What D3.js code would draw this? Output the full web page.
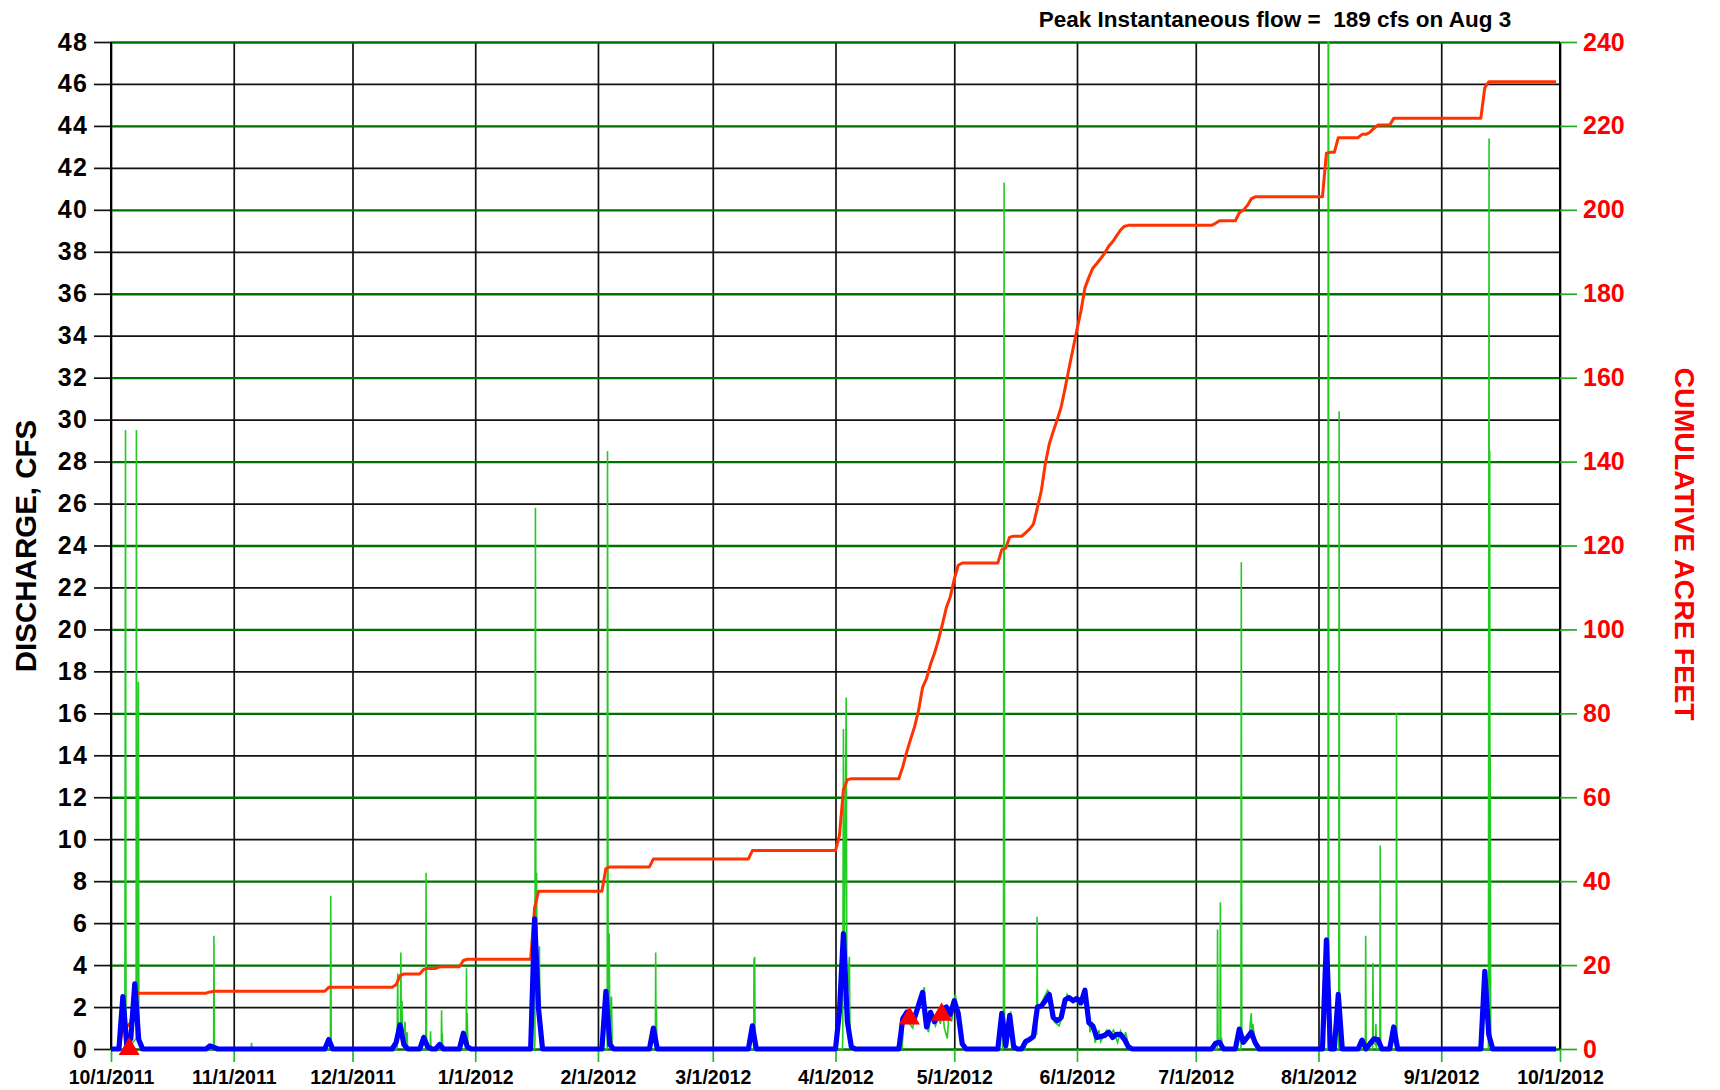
<!DOCTYPE html>
<html><head><meta charset="utf-8">
<script src="https://cdn.jsdelivr.net/npm/d3@7"></script>
<style>
body{margin:0;background:#fff;}
svg{display:block;}
text{font-family:"Liberation Sans", Arial, Helvetica, sans-serif;}
</style>
</head><body>
<svg id="chart" width="1720" height="1090"></svg>
<script>
// ---------------- DATA ----------------
const titleText = "Peak Instantaneous flow =  189 cfs on Aug 3";
const leftAxisTitle = "DISCHARGE, CFS";
const rightAxisTitle = "CUMULATIVE ACRE FEET";

const leftTickValues = [0,2,4,6,8,10,12,14,16,18,20,22,24,26,28,30,32,34,36,38,40,42,44,46,48];
const rightTickValues = [0,20,40,60,80,100,120,140,160,180,200,220,240];
const monthTickDates = ["2011-10-01","2011-11-01","2011-12-01","2012-01-01","2012-02-01","2012-03-01","2012-04-01","2012-05-01","2012-06-01","2012-07-01","2012-08-01","2012-09-01","2012-10-01"];
const monthTickLabels = ["10/1/2011","11/1/2011","12/1/2011","1/1/2012","2/1/2012","3/1/2012","4/1/2012","5/1/2012","6/1/2012","7/1/2012","8/1/2012","9/1/2012","10/1/2012"];

// daily mean discharge, cfs (blue)
const dailyMean = [
["2011-10-01",0],["2011-10-03",0],["2011-10-04",2.5],["2011-10-05",0.15],["2011-10-06",0.5],["2011-10-07",3.1],["2011-10-08",0.45],["2011-10-09",0],
["2011-10-25",0],["2011-10-26",0.15],["2011-10-27",0.08],["2011-10-28",0],
["2011-11-24",0],["2011-11-25",0.45],["2011-11-26",0],
["2011-12-11",0],["2011-12-12",0.3],["2011-12-13",1.15],["2011-12-14",0.2],["2011-12-15",0],
["2011-12-18",0],["2011-12-19",0.55],["2011-12-20",0.1],["2011-12-21",0],
["2011-12-22",0],["2011-12-23",0.22],["2011-12-24",0],
["2011-12-28",0],["2011-12-29",0.75],["2011-12-30",0.1],["2011-12-31",0],
["2012-01-15",0],["2012-01-16",6.2],["2012-01-17",1.9],["2012-01-18",0],
["2012-02-02",0],["2012-02-03",2.75],["2012-02-04",0.2],["2012-02-05",0],
["2012-02-14",0],["2012-02-15",1.0],["2012-02-16",0],
["2012-03-10",0],["2012-03-11",1.1],["2012-03-12",0],
["2012-04-01",0],["2012-04-02",1.8],["2012-04-03",5.5],["2012-04-04",1.3],["2012-04-05",0.1],["2012-04-06",0],
["2012-04-17",0],["2012-04-18",1.45],["2012-04-19",1.75],["2012-04-21",1.5],["2012-04-23",2.7],["2012-04-24",1.05],["2012-04-25",1.75],["2012-04-26",1.3],["2012-04-28",1.9],["2012-04-29",2.0],["2012-04-30",1.65],["2012-05-01",2.3],["2012-05-02",1.7],["2012-05-03",0.25],["2012-05-04",0],
["2012-05-12",0],["2012-05-13",1.7],["2012-05-14",0.15],["2012-05-15",1.6],["2012-05-16",0.1],["2012-05-17",0],["2012-05-18",0],
["2012-05-19",0.35],["2012-05-20",0.45],["2012-05-21",0.6],["2012-05-22",2.0],["2012-05-23",2.05],["2012-05-24",2.3],["2012-05-25",2.6],["2012-05-26",1.5],["2012-05-27",1.35],["2012-05-28",1.5],["2012-05-29",2.35],["2012-05-30",2.45],["2012-05-31",2.3],["2012-06-01",2.4],["2012-06-02",2.2],["2012-06-03",2.8],["2012-06-04",1.25],["2012-06-05",1.1],["2012-06-06",0.55],["2012-06-07",0.6],["2012-06-08",0.65],["2012-06-09",0.8],["2012-06-10",0.55],["2012-06-11",0.7],["2012-06-12",0.7],["2012-06-13",0.45],["2012-06-14",0.1],["2012-06-15",0],
["2012-07-05",0],["2012-07-06",0.27],["2012-07-07",0.32],["2012-07-08",0],
["2012-07-11",0],["2012-07-12",0.95],["2012-07-13",0.32],["2012-07-14",0.55],["2012-07-15",0.8],["2012-07-16",0.3],["2012-07-17",0],
["2012-08-02",0],["2012-08-03",5.2],["2012-08-04",0],["2012-08-05",0],["2012-08-06",2.6],["2012-08-07",0],
["2012-08-11",0],["2012-08-12",0.42],["2012-08-13",0],["2012-08-14",0.25],["2012-08-15",0.48],["2012-08-16",0.45],["2012-08-17",0],
["2012-08-19",0],["2012-08-20",1.05],["2012-08-21",0],
["2012-09-11",0],["2012-09-12",3.7],["2012-09-13",0.7],["2012-09-14",0],["2012-09-30",0]
];

// cumulative volume, acre-feet (red, right axis)
const cumulativeAF = [
["2011-10-01",0],["2011-10-03",0],["2011-10-04",5.0],["2011-10-05",5.3],["2011-10-06",6.3],["2011-10-07",12.4],["2011-10-08",13.3],
["2011-10-25",13.3],["2011-10-26",13.6],["2011-10-27",13.75],
["2011-11-24",13.75],["2011-11-25",14.7],
["2011-12-11",14.7],["2011-12-12",15.3],["2011-12-13",17.5],["2011-12-14",17.9],
["2011-12-18",17.9],["2011-12-19",19.0],["2011-12-20",19.2],
["2011-12-22",19.2],["2011-12-23",19.6],
["2011-12-28",19.6],["2011-12-29",21.1],["2011-12-30",21.4],
["2012-01-15",21.4],["2012-01-16",33.7],["2012-01-17",37.6],
["2012-02-02",37.6],["2012-02-03",43.0],["2012-02-04",43.4],
["2012-02-14",43.4],["2012-02-15",45.3],
["2012-03-10",45.3],["2012-03-11",47.3],
["2012-04-01",47.3],["2012-04-02",50.9],["2012-04-03",61.8],["2012-04-04",64.2],["2012-04-05",64.4],
["2012-04-17",64.4],["2012-04-18",67.3],["2012-04-19",70.8],["2012-04-20",73.9],["2012-04-21",76.9],["2012-04-22",80.8],["2012-04-23",86.2],["2012-04-24",88.3],["2012-04-25",91.7],["2012-04-26",94.3],["2012-04-27",97.5],["2012-04-28",101.2],["2012-04-29",105.2],["2012-04-30",107.8],["2012-05-01",112.0],["2012-05-02",115.3],["2012-05-03",115.8],
["2012-05-12",115.8],["2012-05-13",119.0],["2012-05-14",119.4],["2012-05-15",122.0],["2012-05-16",122.2],
["2012-05-18",122.2],["2012-05-19",123.0],["2012-05-20",123.9],["2012-05-21",125.1],["2012-05-22",129.0],["2012-05-23",133.1],["2012-05-24",139.5],["2012-05-25",144.2],["2012-05-26",147.2],["2012-05-27",150.0],["2012-05-28",153.0],["2012-05-29",157.5],["2012-05-30",162.3],["2012-05-31",166.9],["2012-06-01",171.5],["2012-06-02",175.9],["2012-06-03",181.4],["2012-06-04",183.9],["2012-06-05",186.1],["2012-06-06",187.2],["2012-06-07",188.4],["2012-06-08",189.7],["2012-06-09",191.3],["2012-06-10",192.4],["2012-06-11",193.8],["2012-06-12",195.2],["2012-06-13",196.1],["2012-06-14",196.3],
["2012-07-05",196.3],["2012-07-06",196.8],["2012-07-07",197.4],
["2012-07-11",197.4],["2012-07-12",199.3],["2012-07-13",199.9],["2012-07-14",201.0],["2012-07-15",202.6],["2012-07-16",203.1],
["2012-08-02",203.1],["2012-08-03",213.5],["2012-08-04",213.7],
["2012-08-05",213.7],["2012-08-06",217.2],
["2012-08-11",217.2],["2012-08-12",218.0],["2012-08-13",218.0],["2012-08-14",218.5],["2012-08-15",219.4],["2012-08-16",220.2],
["2012-08-19",220.2],["2012-08-20",221.8],
["2012-09-11",221.8],["2012-09-12",229.1],["2012-09-13",230.5],["2012-09-30",230.5]
];

// instantaneous discharge, cfs (green)
const instantaneous = [
["2011-10-01 00:00",0],
["2011-10-04 12:00",0],["2011-10-04 16:00",29.5],["2011-10-04 19:00",1.2],["2011-10-05 06:00",0.2],["2011-10-06 12:00",0.3],
["2011-10-07 08:00",0.5],["2011-10-07 10:00",29.5],["2011-10-07 13:00",2.5],["2011-10-07 21:00",1.0],["2011-10-07 22:00",17.5],["2011-10-08 01:00",0.8],["2011-10-08 12:00",0.2],["2011-10-09 00:00",0],
["2011-10-26 22:00",0],["2011-10-27 00:00",5.4],["2011-10-27 03:00",0],
["2011-11-05 10:00",0],["2011-11-05 12:00",0.3],["2011-11-05 14:00",0],
["2011-11-25 10:00",0],["2011-11-25 12:00",7.3],["2011-11-25 15:00",0.2],["2011-11-25 20:00",0],
["2011-12-12 06:00",0],["2011-12-12 10:00",3.6],["2011-12-12 13:00",0.5],["2011-12-13 03:00",1.0],["2011-12-13 05:00",4.6],["2011-12-13 08:00",1.0],["2011-12-13 12:00",2.3],["2011-12-13 15:00",0.4],["2011-12-14 07:00",1.3],["2011-12-14 10:00",0.2],["2011-12-14 19:00",0.8],["2011-12-14 22:00",0],
["2011-12-19 10:00",0],["2011-12-19 12:00",0.1],["2011-12-19 14:00",8.4],["2011-12-19 17:00",0.2],["2011-12-20 15:00",0.1],["2011-12-20 17:00",0.85],["2011-12-20 20:00",0],
["2011-12-23 10:00",0],["2011-12-23 12:00",1.85],["2011-12-23 14:00",0.3],["2011-12-23 16:00",0.75],["2011-12-23 19:00",0],
["2011-12-29 17:00",0],["2011-12-29 19:00",3.85],["2011-12-29 21:00",0.5],["2011-12-29 23:00",1.7],["2011-12-30 04:00",0],
["2012-01-16 00:00",0],["2012-01-16 02:00",0.5],["2012-01-16 05:00",25.8],["2012-01-16 08:00",4.0],["2012-01-16 12:00",8.4],["2012-01-16 16:00",2.0],["2012-01-17 05:00",4.9],["2012-01-17 09:00",0.8],["2012-01-17 20:00",0],
["2012-02-03 08:00",0],["2012-02-03 10:00",28.5],["2012-02-03 14:00",1.5],["2012-02-03 20:00",5.5],["2012-02-04 00:00",0.8],["2012-02-04 10:00",2.5],["2012-02-04 14:00",0.3],["2012-02-05 00:00",0],
["2012-02-15 12:00",0],["2012-02-15 14:00",4.6],["2012-02-15 16:00",0.4],["2012-02-15 18:00",2.1],["2012-02-15 21:00",0],
["2012-03-11 08:00",0],["2012-03-11 10:00",4.3],["2012-03-11 12:00",0.5],["2012-03-11 14:00",4.4],["2012-03-11 17:00",0],
["2012-04-02 18:00",0],["2012-04-02 20:00",0.5],["2012-04-03 00:00",15.25],["2012-04-03 04:00",3.0],["2012-04-03 17:00",16.75],["2012-04-03 21:00",2.0],["2012-04-04 12:00",4.4],["2012-04-04 16:00",0.5],["2012-04-05 06:00",0],
["2012-04-17 20:00",0],["2012-04-18 06:00",1.6],["2012-04-19 00:00",1.8],["2012-04-19 18:00",1.2],["2012-04-20 12:00",1.0],["2012-04-21 06:00",1.7],["2012-04-22 12:00",2.2],["2012-04-23 10:00",2.95],["2012-04-24 00:00",1.1],["2012-04-24 12:00",0.8],["2012-04-25 06:00",1.8],["2012-04-26 06:00",1.1],["2012-04-27 00:00",1.5],["2012-04-27 12:00",1.2],["2012-04-28 00:00",1.9],["2012-04-28 12:00",1.0],["2012-04-29 06:00",0.5],["2012-04-29 18:00",2.0],["2012-04-30 08:00",1.3],["2012-05-01 06:00",2.6],["2012-05-02 00:00",1.6],["2012-05-02 18:00",0.4],["2012-05-03 12:00",0],
["2012-05-13 04:00",0],["2012-05-13 10:00",1.9],["2012-05-13 14:00",41.3],["2012-05-13 17:00",1.5],["2012-05-14 06:00",0.1],["2012-05-15 06:00",1.8],["2012-05-15 18:00",0.3],["2012-05-16 12:00",0],
["2012-05-18 22:00",0],["2012-05-19 00:00",0.3],["2012-05-20 12:00",0.6],["2012-05-21 20:00",0.7],["2012-05-21 22:00",6.3],["2012-05-22 01:00",1.8],["2012-05-23 00:00",2.2],["2012-05-24 14:00",2.8],["2012-05-25 08:00",2.6],["2012-05-26 06:00",1.3],["2012-05-27 12:00",1.1],["2012-05-28 12:00",1.7],["2012-05-29 12:00",2.6],["2012-05-30 12:00",2.3],["2012-05-31 18:00",2.5],["2012-06-01 12:00",2.1],["2012-06-03 06:00",2.9],["2012-06-04 07:00",0.8],["2012-06-04 20:00",1.3],["2012-06-05 14:00",0.3],["2012-06-06 12:00",0.9],["2012-06-07 00:00",0.35],["2012-06-08 12:00",0.9],["2012-06-09 12:00",0.7],["2012-06-10 06:00",0.9],["2012-06-11 06:00",0.3],["2012-06-12 00:00",0.85],["2012-06-12 18:00",0.4],["2012-06-13 06:00",0.8],["2012-06-14 00:00",0.2],["2012-06-14 12:00",0],
["2012-07-06 10:00",0],["2012-07-06 12:00",5.7],["2012-07-06 15:00",0.3],["2012-07-07 03:00",0.2],["2012-07-07 05:00",7.0],["2012-07-07 08:00",0.3],["2012-07-07 12:00",0.55],["2012-07-07 18:00",0],
["2012-07-12 10:00",0],["2012-07-12 12:00",23.2],["2012-07-12 15:00",0.4],["2012-07-13 12:00",0.3],["2012-07-14 12:00",0.6],["2012-07-15 00:00",1.7],["2012-07-15 06:00",0.5],["2012-07-15 10:00",1.2],["2012-07-15 16:00",0.8],["2012-07-16 06:00",0],
["2012-08-03 10:00",0],["2012-08-03 12:00",189],["2012-08-03 14:00",0.5],["2012-08-04 00:00",0],
["2012-08-06 03:00",0],["2012-08-06 05:00",30.4],["2012-08-06 08:00",0.3],["2012-08-06 16:00",0],
["2012-08-12 20:00",0],["2012-08-12 22:00",5.4],["2012-08-13 01:00",0],
["2012-08-14 16:00",0],["2012-08-14 18:00",4.1],["2012-08-14 21:00",0.3],["2012-08-15 10:00",0.2],["2012-08-15 12:00",1.2],["2012-08-15 15:00",0],
["2012-08-16 12:00",0],["2012-08-16 14:00",9.7],["2012-08-16 17:00",0],
["2012-08-20 15:00",0],["2012-08-20 17:00",16.0],["2012-08-20 19:00",0.8],["2012-08-20 23:00",0],
["2012-09-12 22:00",0],["2012-09-13 02:00",43.4],["2012-09-13 04:00",1.0],["2012-09-13 06:00",28.5],["2012-09-13 08:00",1.0],["2012-09-13 09:00",13.9],["2012-09-13 12:00",0],
["2012-09-30 00:00",0]
];

// field measurements, cfs (red triangles)
const measurements = [["2011-10-05 14:00",0],["2012-04-19 16:00",1.46],["2012-04-27 19:00",1.64]];

// ---------------- CHART ----------------
const svg = d3.select("#chart");
const L = 111, R = 1560, T = 42, B = 1049;
const parseDay = d3.utcParse("%Y-%m-%d");
const parseTime = d3.utcParse("%Y-%m-%d %H:%M");

const x = d3.scaleUtc().domain([parseDay("2011-10-01"), parseDay("2012-10-01")]).range([L, R]);
const yL = d3.scaleLinear().domain([0, 48]).range([B, T]);
const yR = d3.scaleLinear().domain([0, 240]).range([B, T]);
const monthDates = monthTickDates.map(parseDay);

svg.append("defs").append("clipPath").attr("id","plotClip")
  .append("rect").attr("x", L).attr("y", T - 1).attr("width", R - L).attr("height", B - T + 6);

// black horizontal grid (left axis values not on the green grid)
svg.append("g").attr("class","gridBlack")
  .attr("transform", `translate(${L},0)`)
  .call(d3.axisLeft(yL).tickValues(leftTickValues.filter(v => v % 4 !== 0)).tickSize(-(R - L)).tickFormat(""))
  .call(g => g.select(".domain").remove())
  .call(g => g.selectAll("line").attr("stroke", "#111").attr("stroke-width", 1.7));

// vertical month grid
svg.append("g").attr("class","gridV")
  .attr("transform", `translate(0,${B})`)
  .call(d3.axisBottom(x).tickValues(monthDates).tickSize(-(B - T)).tickFormat(""))
  .call(g => g.select(".domain").remove())
  .call(g => g.selectAll("line").attr("stroke", "#111").attr("stroke-width", 1.7));

// green horizontal grid (right axis values)
svg.append("g").attr("class","gridGreen")
  .attr("transform", `translate(${R},0)`)
  .call(d3.axisRight(yR).tickValues(rightTickValues).tickSize(-(R - L)).tickFormat(""))
  .call(g => g.select(".domain").remove())
  .call(g => g.selectAll("line").attr("stroke", "#007000").attr("stroke-width", 2.3));

// plot borders (left / right)
svg.append("line").attr("x1", L).attr("x2", L).attr("y1", T).attr("y2", B).attr("stroke", "#000").attr("stroke-width", 2);
svg.append("line").attr("x1", R).attr("x2", R).attr("y1", T).attr("y2", B).attr("stroke", "#000").attr("stroke-width", 2);

// left axis ticks + labels
const axL = svg.append("g").attr("transform", `translate(${L},0)`)
  .call(d3.axisLeft(yL).tickValues(leftTickValues).tickSize(17).tickPadding(6).tickFormat(d3.format("d")));
axL.select(".domain").remove();
axL.selectAll("line").attr("stroke", "#111").attr("stroke-width", 1.7);
axL.selectAll("text").attr("font-size", 25).attr("font-weight", "bold").attr("fill", "#000")
  .attr("letter-spacing", 1.2)
  .attr("font-family", '"Liberation Sans", Arial, sans-serif');

// right axis ticks + labels
const axR = svg.append("g").attr("transform", `translate(${R},0)`)
  .call(d3.axisRight(yR).tickValues(rightTickValues).tickSize(17).tickPadding(6).tickFormat(d3.format("d")));
axR.select(".domain").remove();
axR.selectAll("line").attr("stroke", "#22aa22").attr("stroke-width", 1.7);
axR.selectAll("text").attr("font-size", 25).attr("font-weight", "bold").attr("fill", "#ff0000")
  .attr("font-family", '"Liberation Sans", Arial, sans-serif');

// bottom axis ticks + labels
const axB = svg.append("g").attr("transform", `translate(0,${B})`)
  .call(d3.axisBottom(x).tickValues(monthDates).tickSize(13).tickPadding(8).tickFormat((d, i) => monthTickLabels[i]));
axB.select(".domain").remove();
axB.selectAll("line").attr("stroke", "#22bb22").attr("stroke-width", 1.7);
axB.selectAll("text").attr("font-size", 19.5).attr("font-weight", "bold").attr("fill", "#000")
  .attr("font-family", '"Liberation Sans", Arial, sans-serif');

// series
const plot = svg.append("g").attr("clip-path", "url(#plotClip)");

plot.append("path")
  .datum(instantaneous)
  .attr("fill", "none").attr("stroke", "#22cc22").attr("stroke-width", 1.6)
  .attr("d", d3.line().x(d => x(parseTime(d[0]))).y(d => yL(d[1])));

plot.append("path")
  .datum(cumulativeAF)
  .attr("fill", "none").attr("stroke", "#ff3300").attr("stroke-width", 3).attr("stroke-linejoin", "round")
  .attr("d", d3.line().x(d => x(parseDay(d[0]))).y(d => yR(d[1])));

plot.append("path")
  .datum(dailyMean)
  .attr("fill", "none").attr("stroke", "#0000ff").attr("stroke-width", 5.2).attr("stroke-linejoin", "round")
  .attr("d", d3.line().x(d => x(parseDay(d[0]))).y(d => yL(d[1])));

svg.append("g").selectAll("path").data(measurements).join("path")
  .attr("transform", d => `translate(${x(parseTime(d[0]))},${yL(d[1])})`)
  .attr("d", d3.symbol(d3.symbolTriangle, 190))
  .attr("fill", "#ff0000");

// titles
svg.append("text").attr("x", 1275).attr("y", 27).attr("text-anchor", "middle")
  .attr("xml:space", "preserve").style("white-space", "pre")
  .attr("font-size", 22.5).attr("font-weight", "bold").attr("fill", "#000").text(titleText);

svg.append("text").attr("transform", "translate(25,546) rotate(-90)")
  .attr("text-anchor", "middle").attr("dominant-baseline", "central")
  .attr("font-size", 29.5).attr("font-weight", "bold").attr("fill", "#000").text(leftAxisTitle);

svg.append("text").attr("transform", "translate(1685,544) rotate(90)")
  .attr("text-anchor", "middle").attr("dominant-baseline", "central")
  .attr("font-size", 28.5).attr("font-weight", "bold").attr("fill", "#ff0000").text(rightAxisTitle);
</script>
</body></html>
